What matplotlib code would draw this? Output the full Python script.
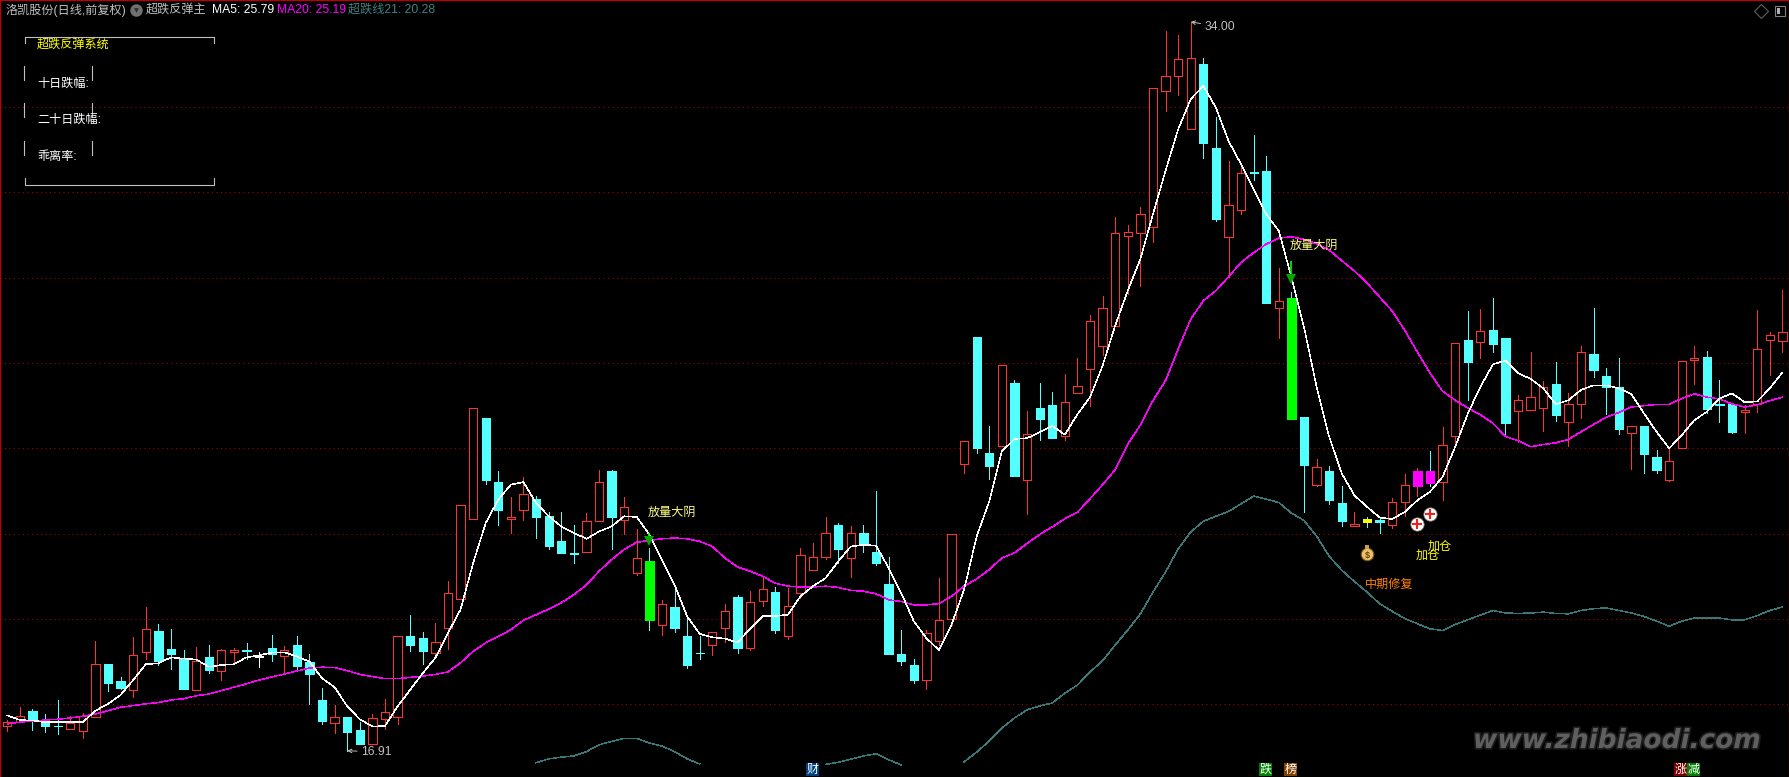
import numpy as np
import matplotlib
matplotlib.use("Agg")
import matplotlib.pyplot as plt
import matplotlib.patheffects as pe
from matplotlib.patches import Rectangle

OUTPUT_FILE = "out.png"
W, H = 1790, 777

plt.rcParams['font.family'] = ['Liberation Sans', 'Noto Sans CJK SC', 'DejaVu Sans']

nan = float('nan')

# daily candles
opens = [17.48, 17.59, 17.84, 17.62, 17.49, 17.43, 17.38, 17.71, 18.95, 18.55,
         18.34, 19.23, 19.72, 19.30, 19.07, 18.34, 19.11, 18.79, 19.23, 19.27,
         19.13, 19.32, 19.14, 19.39, 18.99, 18.10, 17.57, 17.70, 17.40, 17.06,
         17.66, 17.70, 19.61, 19.56, 19.20, 19.80, 20.46, 22.34, 24.72, 23.22,
         22.34, 22.55, 22.82, 22.42, 21.84, 21.55, 21.56, 22.29, 23.48, 22.31,
         21.07, 21.37, 19.85, 20.29, 19.61, 19.21, 19.38, 19.80, 20.52, 19.31,
         20.41, 20.64, 19.59, 20.60, 21.16, 21.45, 22.21, 21.42, 22.02, 21.58,
         20.83, 19.19, 18.93, 18.56, 19.48, 19.99, 23.63, 26.62, 23.90, 24.05,
         25.54, 23.27, 24.95, 25.02, 24.28, 25.31, 25.85, 26.39, 26.88, 28.99,
         29.06, 29.18, 32.37, 32.74, 31.48, 33.02, 31.05, 28.95, 29.60, 30.48,
         30.51, 27.28, 27.52, 24.73, 23.13, 23.48, 22.71, 22.18, 22.34, 22.31,
         22.20, 22.74, 23.11, 23.46, 23.21, 24.30, 26.53, 26.49, 26.77, 26.58,
         24.88, 24.91, 24.95, 25.51, 24.63, 25.05, 26.21, 25.70, 25.44, 24.37,
         24.52, 23.80, 23.27, 24.02, 26.08, 26.14, 25.04, 25.04, 24.86, 25.04,
         26.55, 26.52]
highs = [17.62, 17.93, 17.89, 17.77, 18.10, 17.72, 17.79, 19.48, 18.95, 18.65,
         19.58, 20.28, 19.88, 19.77, 19.27, 19.34, 19.39, 19.29, 19.31, 19.44,
         19.23, 19.63, 19.37, 19.60, 19.18, 18.38, 17.98, 17.70, 17.59, 17.77,
         18.13, 19.59, 20.10, 19.70, 19.91, 20.88, 22.67, 24.95, 24.72, 23.48,
         22.87, 23.34, 22.89, 22.52, 22.52, 22.21, 22.48, 23.50, 23.50, 22.87,
         22.12, 21.67, 20.45, 20.69, 20.03, 19.59, 19.70, 20.34, 20.57, 20.66,
         20.95, 20.76, 20.73, 21.67, 21.77, 22.40, 22.26, 22.19, 22.21, 23.01,
         21.46, 19.73, 19.07, 19.75, 20.95, 21.99, 24.17, 26.62, 24.53, 25.95,
         25.61, 24.88, 25.54, 25.33, 25.75, 26.13, 27.13, 27.58, 29.43, 29.24,
         29.66, 32.45, 33.79, 33.70, 34.00, 33.16, 31.77, 30.74, 30.70, 31.35,
         30.86, 28.23, 27.66, 24.73, 23.74, 23.58, 23.11, 22.52, 22.38, 22.38,
         22.83, 23.41, 23.55, 23.93, 24.49, 26.48, 27.23, 27.26, 27.52, 26.58,
         25.25, 26.26, 25.58, 26.02, 25.30, 26.40, 27.29, 25.88, 26.12, 24.52,
         24.52, 23.96, 24.00, 26.06, 26.40, 26.28, 25.60, 25.04, 25.02, 27.24,
         26.73, 27.71]
lows = [17.38, 17.59, 17.40, 17.36, 17.30, 17.43, 17.21, 17.71, 18.31, 18.36,
        18.17, 19.06, 18.92, 18.83, 18.36, 18.34, 18.73, 18.57, 18.98, 19.06,
        18.88, 19.02, 18.76, 18.83, 18.01, 17.54, 17.33, 16.91, 17.07, 17.06,
        17.41, 17.54, 19.26, 18.95, 19.09, 19.30, 20.46, 22.34, 23.17, 22.21,
        22.02, 22.33, 21.91, 21.63, 21.55, 21.32, 21.56, 22.29, 21.65, 22.00,
        21.04, 19.73, 19.63, 19.70, 18.86, 19.05, 19.15, 19.47, 19.20, 19.27,
        20.31, 19.66, 19.54, 20.50, 21.16, 21.41, 21.32, 20.99, 21.58, 21.27,
        19.19, 18.93, 18.51, 18.37, 19.40, 19.87, 23.43, 23.90, 23.29, 24.05,
        23.36, 22.45, 24.20, 24.25, 24.20, 25.31, 25.00, 26.20, 26.88, 27.62,
        27.81, 28.84, 31.91, 32.29, 31.48, 30.81, 29.34, 28.02, 29.50, 30.30,
        27.41, 26.59, 24.70, 22.50, 23.11, 22.69, 22.17, 22.18, 22.15, 22.01,
        22.13, 22.41, 22.88, 23.11, 22.78, 24.05, 25.13, 26.11, 26.25, 24.33,
        24.16, 24.91, 24.41, 24.64, 24.05, 24.71, 25.67, 24.80, 24.34, 23.52,
        23.42, 23.42, 23.23, 24.02, 25.51, 24.83, 24.62, 24.36, 24.36, 24.85,
        25.72, 26.26]
closes = [17.58, 17.73, 17.63, 17.50, 17.48, 17.55, 17.73, 18.94, 18.50, 18.38,
          19.15, 19.76, 19.02, 19.18, 18.36, 19.01, 18.80, 19.27, 19.27, 19.26,
          19.12, 19.19, 19.28, 18.90, 18.71, 17.61, 17.70, 17.35, 17.07, 17.67,
          17.81, 19.59, 19.38, 19.26, 19.46, 20.61, 22.67, 24.95, 23.27, 22.56,
          22.39, 22.93, 22.38, 21.72, 21.55, 21.52, 22.30, 23.21, 22.38, 22.63,
          21.43, 19.98, 20.35, 19.80, 18.91, 19.20, 19.70, 20.19, 19.33, 20.40,
          20.70, 19.73, 20.30, 21.50, 21.45, 22.02, 21.63, 22.02, 21.75, 21.32,
          19.19, 19.02, 18.58, 19.68, 19.98, 21.99, 24.17, 24.02, 23.59, 25.95,
          23.36, 24.34, 24.70, 24.25, 25.09, 25.46, 26.98, 27.29, 29.05, 29.07,
          29.49, 32.45, 32.73, 33.13, 33.15, 31.16, 29.38, 29.70, 30.45, 30.46,
          27.41, 27.45, 24.70, 23.60, 23.57, 22.80, 22.29, 22.23, 22.27, 22.27,
          22.75, 23.13, 23.46, 23.20, 24.09, 26.48, 26.02, 26.76, 26.44, 24.59,
          25.13, 25.20, 25.43, 24.78, 25.05, 26.27, 25.84, 25.44, 24.45, 24.52,
          23.87, 23.49, 23.70, 26.06, 26.13, 24.92, 25.02, 24.38, 24.91, 26.32,
          26.65, 26.72]

ma5 = [17.74, 17.63, 17.62, 17.58, 17.58, 17.58, 17.58, 17.85, 18.01, 18.22,
       18.57, 18.94, 18.96, 19.10, 19.07, 19.05, 18.88, 18.92, 18.94, 19.10,
       19.15, 19.21, 19.22, 19.12, 19.00, 18.61, 18.40, 17.95, 17.65, 17.48,
       17.49, 17.95, 18.34, 18.73, 19.09, 19.67, 20.22, 21.31, 22.25, 22.80,
       23.15, 23.21, 22.72, 22.41, 22.17, 22.02, 21.88, 22.05, 22.17, 22.41,
       22.39, 21.98, 21.39, 20.80, 20.06, 19.65, 19.57, 19.54, 19.45, 19.77,
       20.07, 20.07, 20.10, 20.53, 20.77, 20.96, 21.35, 21.70, 21.74, 21.72,
       21.20, 20.61, 19.95, 19.55, 19.27, 19.87, 20.69, 21.94, 22.76, 23.93,
       24.22, 24.24, 24.38, 24.53, 24.32, 24.80, 25.20, 25.94, 26.88, 27.70,
       28.44, 29.49, 30.51, 31.48, 32.19, 32.50, 31.99, 31.21, 30.66, 30.08,
       29.49, 29.10, 28.01, 26.84, 25.44, 24.27, 23.41, 22.90, 22.63, 22.38,
       22.34, 22.51, 22.78, 22.98, 23.33, 24.03, 24.81, 25.44, 25.97, 26.06,
       25.76, 25.63, 25.41, 25.03, 25.13, 25.37, 25.48, 25.48, 25.41, 25.27,
       24.82, 24.39, 24.00, 24.31, 24.66, 24.86, 25.17, 25.29, 25.08, 25.10,
       25.41, 25.78]
ma20 = [17.54, 17.58, 17.61, 17.63, 17.65, 17.68, 17.72, 17.77, 17.85, 17.93,
        17.97, 18.01, 18.04, 18.10, 18.13, 18.20, 18.24, 18.32, 18.40, 18.48,
        18.57, 18.64, 18.71, 18.78, 18.85, 18.87, 18.86, 18.79, 18.70, 18.65,
        18.60, 18.60, 18.63, 18.66, 18.70, 18.76, 18.97, 19.24, 19.44, 19.59,
        19.75, 19.97, 20.10, 20.23, 20.38, 20.57, 20.80, 21.12, 21.39, 21.63,
        21.80, 21.84, 21.88, 21.90, 21.88, 21.82, 21.70, 21.43, 21.22, 21.12,
        21.00, 20.84, 20.77, 20.75, 20.75, 20.77, 20.74, 20.67, 20.65, 20.59,
        20.45, 20.41, 20.33, 20.33, 20.36, 20.53, 20.77, 20.94, 21.16, 21.43,
        21.55, 21.77, 21.98, 22.16, 22.35, 22.50, 22.82, 23.15, 23.50, 24.10,
        24.55, 25.12, 25.59, 26.33, 27.03, 27.46, 27.70, 28.02, 28.36, 28.59,
        28.79, 28.93, 28.96, 28.90, 28.80, 28.65, 28.40, 28.16, 27.88, 27.55,
        27.22, 26.77, 26.26, 25.77, 25.34, 25.13, 24.95, 24.79, 24.59, 24.28,
        24.18, 24.04, 24.09, 24.13, 24.21, 24.39, 24.56, 24.73, 24.84, 24.97,
        25.00, 25.03, 25.03, 25.17, 25.28, 25.20, 25.16, 25.04, 24.97, 25.02,
        25.12, 25.20]
# oversold line leaves the window at the bottom, so it has gaps
oversold = ([nan] * 42 +
            [16.63, 16.72, 16.76, 16.79, 16.89, 17.05, 17.13, 17.20, 17.20, 17.09,
             17.02, 16.89, 16.72, 16.60] +
            [nan] * 9 +
            [16.59, 16.64, 16.71, 16.79, 16.84, 16.70, 16.58] +
            [nan] * 4 +
            [16.65, 16.88, 17.14, 17.44, 17.68, 17.87, 17.96, 18.03, 18.26, 18.45,
             18.76, 19.02, 19.39, 19.74, 20.12, 20.63, 21.10, 21.64, 22.04, 22.29,
             22.41, 22.52, 22.70, 22.88, 22.81, 22.73, 22.48, 22.31, 21.94, 21.47,
             21.14, 20.88, 20.63, 20.36, 20.18, 20.01, 19.89, 19.77, 19.73, 19.87,
             19.98, 20.09, 20.20, 20.14, 20.13, 20.14, 20.16, 20.13, 20.12, 20.20,
             20.24, 20.26, 20.20, 20.14, 20.06, 19.95, 19.83, 19.95, 20.02, 20.02,
             20.02, 19.98, 19.98, 20.08, 20.20, 20.28])

grid_prices = [32, 30, 28, 26, 24, 22, 20, 18]

green_days = [51, 102]
magenta_days = [112, 113]
yellow_days = [108]
white_days = [20]

arrow_days = [51, 102]
arrow_tops = [22.02, 28.40]
arrow_tips = [21.83, 27.97]

plus_days = [112, 113]
plus_prices = [22.23, 22.47]

RED = "#ff3232"
CYAN = "#54ffff"
TEAL = "#3a7878"
GRID = "#b00000"
GRAY = "#c0c0c0"


def px(x, y):
    # pixel position in the reference -> axes fraction
    return x / W, 1 - y / H


def plot_chart():
    fig = plt.figure(figsize=(W / 100, H / 100), dpi=100, facecolor="black")
    ax = fig.add_axes([0, 0, 1, 1], facecolor="black")
    ax.set_xlim(-0.58, 141.6)
    ax.set_ylim(16.295, 34.513)
    ax.set_xticks([])
    ax.set_yticks([])
    for side in ["top", "left", "right"]:
        ax.spines[side].set_color("#c00000")
        ax.spines[side].set_linewidth(1.6)
    ax.spines["bottom"].set_visible(False)

    for price in grid_prices:
        ax.axhline(price, color=GRID, lw=0.72, ls=(0, (1, 3.5)), zorder=1)

    days = np.arange(len(opens))
    o = np.array(opens)
    h = np.array(highs)
    l = np.array(lows)
    c = np.array(closes)
    up = c >= o
    top = np.maximum(o, c)
    bottom = np.minimum(o, c)

    wick_colors = [RED if u else CYAN for u in up]
    for d in white_days:
        wick_colors[d] = "white"
    ax.vlines(days, l, h, colors=wick_colors, lw=0.6, zorder=2, antialiased=False)

    for d in days:
        if d in green_days:
            face = edge = "#00ff00"
        elif d in magenta_days:
            face = edge = "#ff00ff"
        elif d in yellow_days:
            face = edge = "#ffff00"
        elif d in white_days:
            face = edge = "white"
        elif up[d]:
            face, edge = "black", RED
        else:
            face = edge = CYAN
        ax.bar(d, top[d] - bottom[d], bottom=bottom[d], width=0.66, color=face,
               edgecolor=edge, linewidth=0.65, joinstyle="miter", zorder=3, antialiased=False)

    ax.plot(days, oversold, color=TEAL, lw=0.35, zorder=4, antialiased=False)
    ax.plot(days, ma20, color="#ff00ff", lw=0.35, zorder=5, antialiased=False)
    ax.plot(days, ma5, color="white", lw=0.35, zorder=6, antialiased=False)

    # sell arrows
    ax.vlines(arrow_days, arrow_tips, arrow_tops, colors="#00ff00", lw=1.2, zorder=7)
    ax.plot(arrow_days, arrow_tips, "v", color="#00a800", ms=7, mew=0, zorder=7)

    # add-position markers
    ax.plot(plus_days, plus_prices, "o", color="white", mec="#909090", mew=0.6, ms=9.5, zorder=7)
    ax.plot(plus_days, plus_prices, "+", color="#f02020", ms=6.5, mew=1.5, zorder=8)

    # money bag
    ax.plot([108], [21.52], "o", color="#e8c468", mec="#805010", mew=0.8, ms=9, zorder=7)
    ax.plot([108], [21.69], "s", color="#c8a050", ms=3.5, mew=0, zorder=7)
    ax.text(108, 21.5, "$", color="#704010", fontsize=6.5, fontweight="bold",
            ha="center", va="center", zorder=8)

    fs = 8.7
    ax.text(50.85, 22.50, "放量大阴", color="#ffff80", fontsize=fs, va="center", zorder=9)
    ax.text(101.85, 28.74, "放量大阴", color="#ffff80", fontsize=fs, va="center", zorder=9)
    ax.text(111.85, 21.47, "加仓", color="#ffff00", fontsize=fs, va="center", zorder=9)
    ax.text(112.85, 21.70, "加仓", color="#ffff00", fontsize=fs, va="center", zorder=9)
    ax.text(107.85, 20.79, "中期修复", color="#ff8000", fontsize=fs, va="center", zorder=9)

    # high / low labels
    arrow_style = dict(arrowstyle="->,head_width=0.15,head_length=0.3", color=GRAY, lw=0.7,
                       shrinkA=1, shrinkB=0)
    ax.annotate("34.00", xy=(94, 34.0), xytext=(14, -5), textcoords="offset pixels",
                color=GRAY, fontsize=fs, va="center", arrowprops=arrow_style, zorder=9)
    ax.annotate("16.91", xy=(27, 16.91), xytext=(14, -1), textcoords="offset pixels",
                color=GRAY, fontsize=fs, va="center", arrowprops=arrow_style, zorder=9)

    # header line
    for x, text, color in [(5, "洛凯股份(日线,前复权)", GRAY),
                           (146, "超跌反弹主", GRAY),
                           (212, "MA5: 25.79", "white"),
                           (277, "MA20: 25.19", "#ff00ff"),
                           (348, "超跌线21: 20.28", "#3f8080")]:
        ax.text(*px(x, 10), text, color=color, fontsize=fs, va="center",
                transform=ax.transAxes, zorder=9)
    ax.plot(*px(136, 10), "o", color="#707070", ms=9, mew=0, transform=ax.transAxes)
    ax.plot(*px(136, 10), "v", color="#303030", ms=3.5, mew=0, transform=ax.transAxes)

    # icons top right
    ax.plot(*px(1761, 11), "D", mfc="none", mec="#606060", ms=7, mew=0.8, transform=ax.transAxes)
    ax.add_patch(Rectangle(px(1775, 16), 10 / W, 10 / H, fc="none", ec="#808080",
                           lw=0.8, transform=ax.transAxes))
    ax.add_patch(Rectangle(px(1777, 14), 3 / W, 6 / H, fc="#b0b0b0", ec="none",
                           transform=ax.transAxes))

    # info box
    box_lines = [([25.5, 25.5, 214.5, 214.5], [43, 36.5, 36.5, 43]),
                 ([25.5, 25.5, 214.5, 214.5], [178, 185, 185, 178]),
                 ([24.5, 24.5], [66, 80]), ([92.5, 92.5], [66, 80]),
                 ([24.5, 24.5], [103, 117]), ([92.5, 92.5], [103, 117]),
                 ([24.5, 24.5], [141, 155]), ([92.5, 92.5], [141, 155])]
    for xs, ys in box_lines:
        ax.plot([x / W for x in xs], [1 - y / H for y in ys], color=GRAY, lw=0.8,
                transform=ax.transAxes, zorder=7)
    ax.text(*px(37, 45), "超跌反弹系统", color="#ffff00", fontsize=fs, va="center",
            transform=ax.transAxes, zorder=9)
    for y, text in [(84, "十日跌幅:"), (120, "二十日跌幅:"), (157, "乖离率:")]:
        ax.text(*px(37, y), text, color="white", fontsize=fs, va="center",
                transform=ax.transAxes, zorder=9)

    # small tags along the bottom
    for x, text, bg in [(806, "财", "#004080"), (1259, "跌", "#007f00"), (1284, "榜", "#804000"),
                        (1674, "涨", "#7f0000"), (1687, "减", "#007f00")]:
        ax.add_patch(Rectangle(px(x, 776), 13 / W, 13 / H, fc=bg, ec="none",
                               transform=ax.transAxes, zorder=8))
        ax.text(*px(x + 6.5, 769.5), text, color="white", fontsize=fs, ha="center", va="center",
                transform=ax.transAxes, zorder=9)

    # watermark
    ax.text(*px(1473, 741), "www.zhibiaodi.com", color="#5f5f5f", fontsize=19, family="DejaVu Sans",
            style="italic", fontweight="bold", va="center", transform=ax.transAxes, zorder=9,
            path_effects=[pe.withStroke(linewidth=2.5, foreground="#1c1c1c")])

    fig.savefig(OUTPUT_FILE, dpi=100, facecolor="black")


if __name__ == "__main__":
    plot_chart()
